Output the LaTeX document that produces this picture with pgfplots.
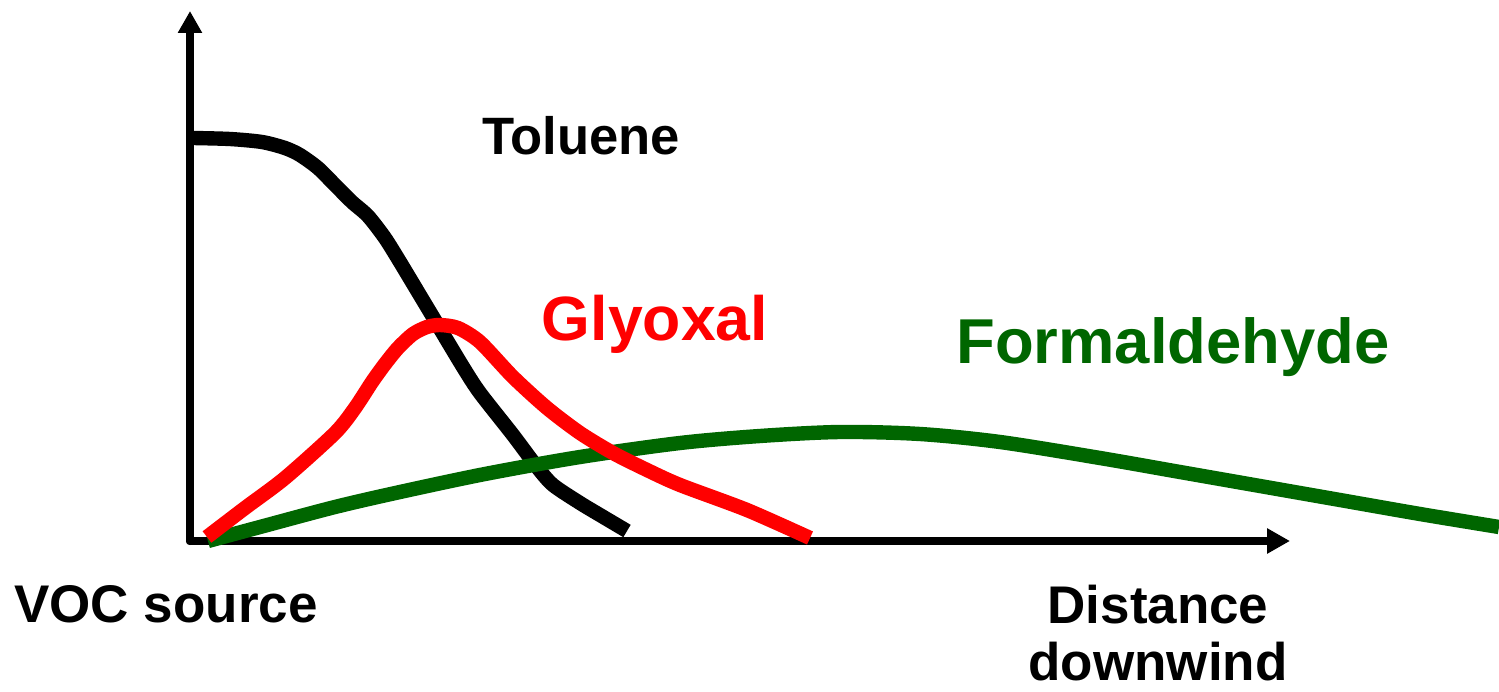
\documentclass[border=0pt]{standalone}
\usepackage{pgfplots}
\pgfplotsset{compat=1.18}
\usepackage{fontspec}
\setmainfont{Liberation Sans}
\usetikzlibrary{arrows.meta}
\definecolor{fgreen}{RGB}{0,102,0}
\begin{document}
\begin{tikzpicture}
\begin{axis}[
  scale only axis,
  width=550pt, height=265pt,
  xmin=190, xmax=1290, ymin=150, ymax=680,
  axis lines=left,
  xtick=\empty, ytick=\empty,
  axis line style={line width=4.1pt, line cap=round},
  x axis line style={-{Triangle[length=11.5pt,width=12pt]}},
  y axis line style={-{Triangle[length=11pt,width=11.5pt]}},
  clip=false,
]
\addplot[black, line width=7.2pt, smooth, tension=0.45] coordinates {
(193,553) (230,552) (262,549) (285,543) (300,536) (318,523) (335,506)
(352,489) (368,475) (385,453) (400,429) (418,399) (433,374) (463,324)
(480,298) (513,256) (537,224) (553,206) (580,188) (600,176) (627,160)
};
\addplot[fgreen, line width=7.2pt, smooth, tension=0.5] coordinates {
(208,150) (260,164) (335,184) (400,199) (485,217) (580,234) (680,248)
(760,255) (840,259) (920,257) (1000,249) (1100,233) (1180,219)
(1260,205) (1340,191) (1420,177) (1499,164)
};
\addplot[red, line width=7.2pt, smooth, tension=0.45] coordinates {
(207,154) (245,183) (285,213) (335,258) (355,283) (372,309) (385,327)
(398,343) (413,357) (427,364) (440,366) (458,363) (480,349) (513,314)
(547,283) (580,258) (613,238) (647,221) (680,206) (747,181) (810,153)
};
\node[anchor=base, inner sep=0pt, font=\fontsize{26.3pt}{30pt}\selectfont\bfseries] at (axis cs:581,536) {Toluene};
\node[anchor=base, inner sep=0pt, text=red, font=\fontsize{31.3pt}{36pt}\selectfont\bfseries] at (axis cs:655,351) {Glyoxal};
\node[anchor=base, inner sep=0pt, text=fgreen, font=\fontsize{31.7pt}{36pt}\selectfont\bfseries] at (axis cs:1173,328) {Formaldehyde};
\node[anchor=base, inner sep=0pt, font=\fontsize{26.5pt}{30pt}\selectfont\bfseries] at (axis cs:166,69) {VOC source};
\node[anchor=base, inner sep=0pt, font=\fontsize{26.5pt}{30pt}\selectfont\bfseries] at (axis cs:1158,68) {Distance};
\node[anchor=base, inner sep=0pt, font=\fontsize{26.5pt}{30pt}\selectfont\bfseries] at (axis cs:1158,11) {downwind};
\coordinate (bl) at (axis cs:0,0);
\coordinate (tr) at (axis cs:1499,691);
\end{axis}
\pgfresetboundingbox
\useasboundingbox (bl) rectangle (tr);
\end{tikzpicture}
\end{document}
